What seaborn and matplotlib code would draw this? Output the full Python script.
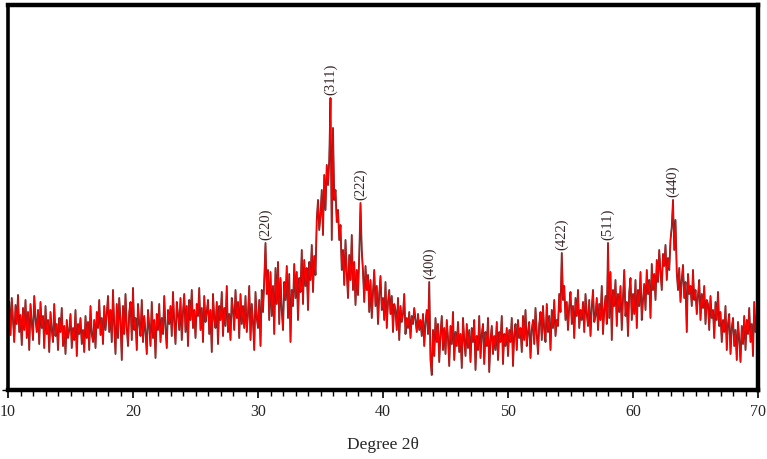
import numpy as np
import pandas as pd
import matplotlib
matplotlib.use("Agg")
import matplotlib.pyplot as plt
import seaborn as sns
from matplotlib.ticker import MultipleLocator

# 2-theta grid start/step (one row of values per degree below)
two_theta_start = 10.0
two_theta_step = 0.1

intensity_rows = [
    [62, 88, 55, 92, 70, 48, 85, 66, 95, 58],        # 10
    [75, 45, 82, 60, 90, 52, 78, 40, 86, 68],        # 11
    [50, 94, 72, 58, 80, 46, 88, 62, 74, 42],        # 12
    [84, 56, 70, 38, 78, 60, 48, 86, 54, 66],        # 13
    [40, 72, 58, 82, 44, 64, 36, 70, 52, 60],        # 14
    [76, 42, 62, 50, 80, 34, 66, 56, 72, 46],        # 15
    [60, 38, 74, 52, 68, 40, 84, 56, 48, 70],        # 16
    [42, 78, 62, 90, 55, 72, 46, 84, 60, 76],        # 17
    [94, 58, 80, 48, 100, 64, 36, 86, 52, 92],       # 18
    [70, 30, 84, 56, 96, 62, 44, 78, 88, 50],        # 19
    [102, 60, 72, 40, 86, 66, 54, 90, 48, 74],       # 20
    [58, 36, 80, 64, 44, 88, 52, 70, 32, 76],        # 21
    [60, 86, 48, 72, 56, 94, 62, 42, 80, 66],        # 22
    [84, 54, 98, 68, 46, 88, 76, 60, 92, 50],        # 23
    [78, 96, 58, 84, 44, 90, 70, 100, 62, 80],       # 24
    [52, 86, 74, 102, 60, 82, 48, 94, 68, 78],       # 25
    [90, 56, 80, 38, 96, 72, 62, 88, 46, 84],        # 26
    [70, 98, 54, 82, 64, 104, 58, 76, 50, 92],       # 27
    [80, 60, 100, 72, 88, 52, 96, 66, 84, 62],       # 28
    [94, 58, 76, 104, 50, 86, 68, 40, 98, 72],       # 29
    [62, 90, 44, 100, 78, 110, 147, 96, 120, 70],    # 30
    [118, 74, 104, 56, 122, 86, 128, 66, 112, 80],   # 31
    [60, 108, 90, 124, 72, 116, 48, 100, 84, 126],   # 32
    [92, 118, 70, 112, 98, 140, 86, 130, 104, 122],  # 33
    [80, 128, 110, 145, 98, 134, 115, 170, 190, 160],  # 34
    [175, 200, 155, 215, 180, 225, 205, 230, 292, 150],  # 35
    [262, 190, 200, 168, 180, 150, 165, 120, 140, 105],  # 36
    [150, 118, 92, 135, 110, 155, 100, 128, 85, 120],  # 37
    [95, 135, 187, 140, 118, 88, 124, 100, 115, 78],   # 38
    [110, 72, 98, 120, 84, 104, 66, 96, 114, 80],    # 39
    [92, 70, 108, 62, 88, 100, 76, 94, 58, 86],      # 40
    [80, 60, 92, 50, 84, 68, 76, 96, 56, 72],        # 41
    [62, 78, 52, 74, 66, 82, 70, 58, 76, 60],        # 42
    [70, 54, 76, 44, 68, 80, 56, 108, 30, 15],       # 43
    [60, 34, 72, 48, 66, 28, 56, 74, 40, 62],        # 44
    [36, 70, 52, 24, 64, 46, 78, 30, 58, 44],        # 45
    [68, 38, 56, 22, 72, 50, 34, 66, 42, 60],        # 46
    [28, 62, 48, 70, 20, 54, 40, 74, 32, 56],        # 47
    [66, 26, 58, 44, 72, 18, 50, 64, 36, 54],        # 48
    [40, 68, 30, 58, 48, 74, 26, 56, 44, 62],        # 49
    [34, 60, 48, 72, 24, 56, 66, 40, 70, 52],        # 50
    [62, 38, 74, 50, 80, 44, 58, 68, 32, 60],        # 51
    [70, 46, 82, 56, 36, 66, 78, 50, 84, 60],        # 52
    [48, 86, 58, 74, 40, 80, 62, 90, 54, 70],        # 53
    [64, 96, 78, 137, 90, 104, 70, 88, 60, 84],      # 54
    [98, 66, 84, 52, 92, 74, 100, 62, 80, 70],       # 55
    [88, 58, 96, 76, 64, 90, 54, 82, 100, 68],       # 56
    [74, 92, 60, 86, 70, 104, 56, 80, 94, 66],       # 57
    [147, 72, 118, 50, 100, 84, 110, 64, 96, 78],    # 58
    [104, 60, 92, 120, 74, 88, 54, 98, 112, 70],     # 59
    [96, 76, 110, 62, 100, 84, 118, 70, 90, 106],    # 60
    [80, 120, 96, 110, 72, 126, 100, 116, 90, 130],  # 61
    [108, 140, 118, 100, 136, 124, 145, 110, 132, 120],  # 62
    [150, 163, 190, 140, 170, 118, 100, 122, 88, 110],   # 63
    [125, 92, 108, 58, 116, 96, 104, 84, 120, 90],   # 64
    [100, 76, 94, 110, 70, 96, 82, 104, 66, 90],     # 65
    [86, 60, 94, 72, 80, 52, 88, 70, 98, 64],        # 66
    [78, 48, 70, 58, 84, 40, 66, 76, 36, 62],        # 67
    [72, 44, 60, 30, 68, 50, 28, 64, 46, 74],        # 68
    [40, 70, 56, 82, 48, 66, 34, 88, 58, 74],        # 69
    [68],                                            # 70
]

# Peak annotations (Miller indices) and their 2-theta positions
peak_labels = ["(220)", "(311)", "(222)", "(400)", "(422)", "(511)", "(440)"]
peak_positions = [30.6, 35.8, 38.2, 43.7, 54.3, 58.0, 63.2]

x_ticks = [10, 20, 30, 40, 50, 60, 70]
x_label = "Degree 2\u03b8"

# ---- build table ----
intensity = [v for row in intensity_rows for v in row]
two_theta = [round(two_theta_start + i * two_theta_step, 1) for i in range(len(intensity))]
df = pd.DataFrame({"two_theta": two_theta, "intensity": intensity})

sns.set_theme(style="white")
plt.rcParams["font.family"] = ["Liberation Serif", "DejaVu Serif"]

W, H, DPI = 767, 459, 100
fig = plt.figure(figsize=(W / DPI, H / DPI), dpi=DPI)
ax = fig.add_axes([8 / W, 1 - 390 / H, (758 - 8) / W, (390 - 5) / H])

sns.lineplot(data=df, x="two_theta", y="intensity", ax=ax, color="#5a2a2a",
             linewidth=1.3, estimator=None, sort=False)
sns.lineplot(data=df, x="two_theta", y="intensity", ax=ax, color="#ff0000",
             linewidth=0.8, estimator=None, sort=False)

lookup = dict(zip(df["two_theta"], df["intensity"]))
for lab, pos in zip(peak_labels, peak_positions):
    yv = lookup[round(pos, 1)]
    ax.text(pos, yv + 3, lab, rotation=90, ha="center", va="bottom",
            fontsize=10.5, color="#3a2626")

ax.set_xlim(10, 70)
ax.set_ylim(0, 385)
ax.set_xticks(x_ticks)
ax.set_xticklabels([str(t) for t in x_ticks], fontsize=11.5)
ax.xaxis.set_minor_locator(MultipleLocator(1))
ax.set_yticks([0])
ax.set_yticklabels([""])
ax.tick_params(axis="x", which="major", direction="out", length=6, width=1.2,
               color="black", bottom=True, pad=4)
ax.tick_params(axis="x", which="minor", direction="out", length=4, width=1.0,
               color="black", bottom=True)
ax.tick_params(axis="y", which="major", direction="out", length=4, width=1.0,
               color="black", left=True)
ax.set_xlabel(x_label, fontsize=12.5, labelpad=12)
ax.set_ylabel("")
for s in ax.spines.values():
    s.set_visible(True)
    s.set_color("black")
    s.set_linewidth(3.2)
ax.spines["left"].set_linewidth(2.6)

fig.savefig("out.png", dpi=DPI)
